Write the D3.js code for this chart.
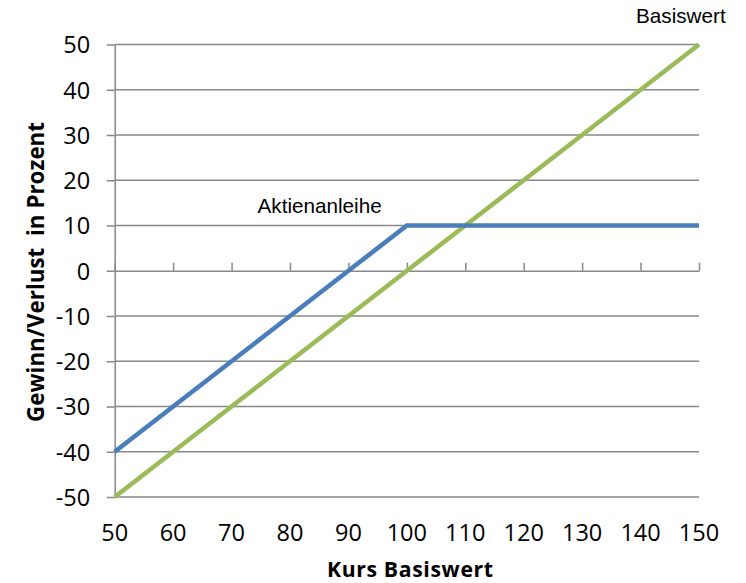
<!DOCTYPE html>
<html>
<head>
<meta charset="utf-8">
<script src="https://cdn.jsdelivr.net/npm/d3@7"></script>
<style>
  html, body { margin: 0; padding: 0; background: #fff; }
  svg { display: block; }
</style>
</head>
<body>
<svg id="chart" width="746" height="583"></svg>
<script>
// Underlying price levels (x) and profit/loss in percent for each instrument
const kurs = [50, 60, 70, 80, 90, 100, 110, 120, 130, 140, 150];
const basiswert = [-50, -40, -30, -20, -10, 0, 10, 20, 30, 40, 50];
const aktienanleihe = [-40, -30, -20, -10, 0, 10, 10, 10, 10, 10, 10];
const xTicks = [50, 60, 70, 80, 90, 100, 110, 120, 130, 140, 150];
const yTicks = [50, 40, 30, 20, 10, 0, -10, -20, -30, -40, -50];

const svg = d3.select("#chart");
const plotLeft = 114.7, plotRight = 699, plotTop = 44.5, plotBottom = 497;

const x = d3.scaleLinear().domain([50, 150]).range([plotLeft, plotRight]);
const y = d3.scaleLinear().domain([-50, 50]).range([plotBottom, plotTop]);
const grid = "#888888";
const gridW = 1.5;
const tickFont = "'Open Sans', Lato, sans-serif";

// horizontal gridlines
svg.append("g").selectAll("line").data(yTicks.filter(v => v !== 0 && v !== -50)).join("line")
  .attr("x1", plotLeft).attr("x2", plotRight)
  .attr("y1", d => y(d)).attr("y2", d => y(d))
  .attr("stroke", grid).attr("stroke-width", gridW);

// y axis with ticks on the left
const yAxis = svg.append("g").attr("transform", `translate(${plotLeft},0)`)
  .call(d3.axisLeft(y).tickValues(yTicks).tickSize(8).tickSizeOuter(0)
    .tickPadding(16.5).tickFormat(d => String(d)));
yAxis.select(".domain").attr("stroke", grid).attr("stroke-width", gridW);
yAxis.selectAll(".tick line").attr("stroke", grid).attr("stroke-width", gridW);
yAxis.selectAll("text").attr("font-family", tickFont)
  .attr("font-size", 23.5).attr("fill", "#000").attr("dy", "0.36em");

// horizontal axis along zero with upward ticks
const xAxis = svg.append("g").attr("transform", `translate(0,${y(0)})`)
  .call(d3.axisTop(x).tickValues(xTicks).tickSize(8).tickSizeOuter(0).tickFormat(""));
xAxis.select(".domain").attr("stroke", grid).attr("stroke-width", gridW);
xAxis.selectAll(".tick line").attr("stroke", grid).attr("stroke-width", gridW);

// bottom line at -50
svg.append("line").attr("x1", plotLeft).attr("x2", plotRight)
  .attr("y1", y(-50)).attr("y2", y(-50))
  .attr("stroke", grid).attr("stroke-width", gridW);

// category labels below the plot
svg.append("g").selectAll("text").data(xTicks).join("text")
  .attr("x", d => x(d)).attr("y", 541)
  .attr("text-anchor", "middle")
  .attr("font-family", tickFont)
  .attr("font-size", 23.5).attr("fill", "#000")
  .text(d => d);

const line = d3.line().x((d, i) => x(kurs[i])).y(d => y(d));

svg.append("path").datum(basiswert)
  .attr("d", line).attr("fill", "none")
  .attr("stroke", "#9BBB59").attr("stroke-width", 4.6);

svg.append("path").datum(aktienanleihe)
  .attr("d", line).attr("fill", "none")
  .attr("stroke", "#4A7EBB").attr("stroke-width", 4.6);

// series labels
svg.append("text").attr("x", 636).attr("y", 22.7)
  .attr("font-family", "'Liberation Sans', Arial, sans-serif")
  .attr("font-size", 20.7).attr("fill", "#000").text("Basiswert");
svg.append("text").attr("x", 257.5).attr("y", 213.3)
  .attr("font-family", "'Liberation Sans', Arial, sans-serif")
  .attr("font-size", 20.7).attr("fill", "#000").text("Aktienanleihe");

// axis titles
svg.append("text").attr("x", 410).attr("y", 576.8)
  .attr("text-anchor", "middle")
  .attr("font-family", tickFont).attr("font-weight", "bold")
  .attr("font-size", 21.2).attr("fill", "#000")
  .attr("textLength", 166).attr("lengthAdjust", "spacing")
  .text("Kurs Basiswert");
svg.append("text")
  .attr("transform", "translate(43.5,272) rotate(-90)")
  .attr("text-anchor", "middle")
  .attr("font-family", tickFont).attr("font-weight", "bold")
  .attr("font-size", 22.3).attr("fill", "#000")
  .attr("textLength", 300).attr("lengthAdjust", "spacing")
  .attr("xml:space", "preserve").style("white-space", "pre")
  .text("Gewinn/Verlust  in Prozent");
</script>
</body>
</html>
